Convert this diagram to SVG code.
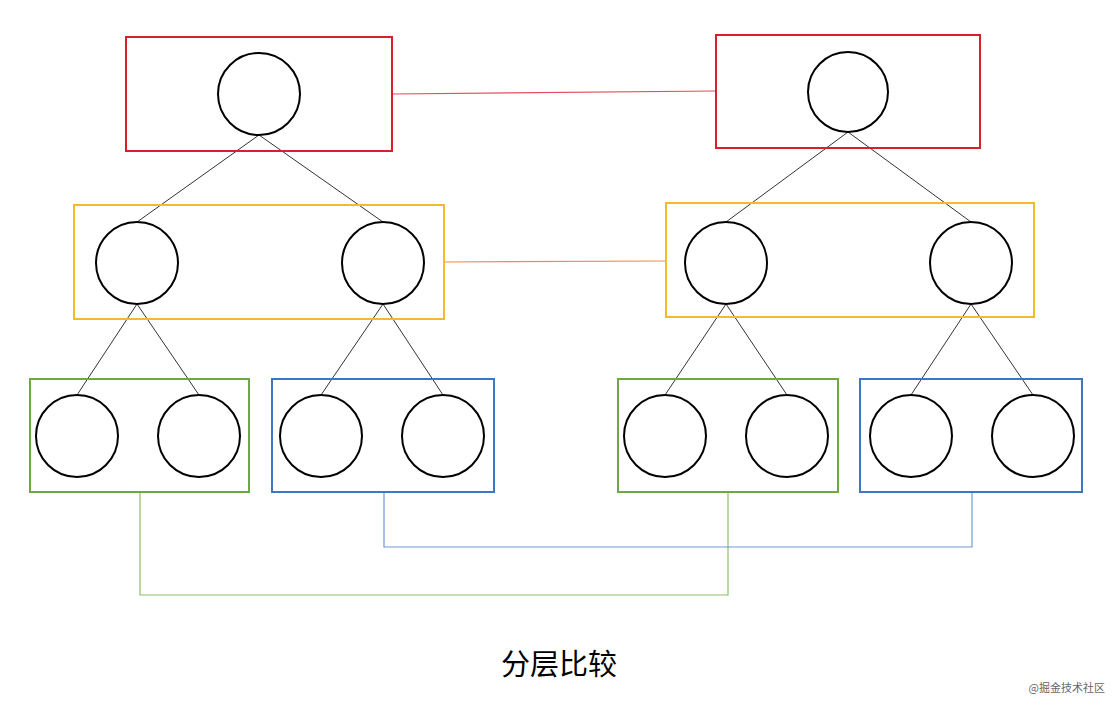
<svg xmlns="http://www.w3.org/2000/svg" width="1120" height="706" viewBox="0 0 1120 706">
<style>
.c{fill:#fff;stroke:#000;stroke-width:2}
.b{fill:none;stroke-width:2}
.r{stroke:#d8202c}.y{stroke:#f5b82e}.g{stroke:#6fa843}.u{stroke:#3d77c3}
.e{stroke:#333;stroke-width:1;fill:none}
</style>
<rect width="1120" height="706" fill="#fff"/>
<g id="connectors">
<line x1="392" y1="94" x2="716" y2="91" stroke="#e0505a" stroke-width="1.2"/>
<line x1="444" y1="262" x2="666" y2="261" stroke="#f08a50" stroke-width="1.2"/>
<polyline points="140,492 140,595 728,595 728,492" fill="none" stroke="#8fbf6a" stroke-width="1.2"/>
<polyline points="384,492 384,547 972,547 972,492" fill="none" stroke="#6f9bd4" stroke-width="1.2"/>
<path class="e" d="M259,135L137,222M259,135L383,222M848,132L726,222M848,132L971,222M137,304L77,395M137,304L199,395M383,304L321,395M383,304L443,395M726,304L665,395M726,304L787,395M971,304L911,395M971,304L1033,395"/>
</g>
<g id="red-left"><rect class="b r" x="126" y="37" width="266" height="114"/><circle class="c" cx="259" cy="94" r="41"/></g>
<g id="red-right"><rect class="b r" x="716" y="35" width="264" height="113"/><circle class="c" cx="848" cy="92" r="40"/></g>
<g id="yellow-left"><rect class="b y" x="74" y="205" width="370" height="114"/><circle class="c" cx="137" cy="263" r="41"/><circle class="c" cx="383" cy="263" r="41"/></g>
<g id="yellow-right"><rect class="b y" x="666" y="203" width="368" height="114"/><circle class="c" cx="726" cy="263" r="41"/><circle class="c" cx="971" cy="263" r="41"/></g>
<g id="green-left"><rect class="b g" x="30" y="379" width="219" height="113"/><circle class="c" cx="77" cy="436" r="41"/><circle class="c" cx="199" cy="436" r="41"/></g>
<g id="blue-left"><rect class="b u" x="272" y="379" width="222" height="113"/><circle class="c" cx="321" cy="436" r="41"/><circle class="c" cx="443" cy="436" r="41"/></g>
<g id="green-right"><rect class="b g" x="618" y="379" width="220" height="113"/><circle class="c" cx="665" cy="436" r="41"/><circle class="c" cx="787" cy="436" r="41"/></g>
<g id="blue-right"><rect class="b u" x="860" y="379" width="222" height="113"/><circle class="c" cx="911" cy="436" r="41"/><circle class="c" cx="1033" cy="436" r="41"/></g>
<text x="559" y="675" text-anchor="middle" font-family="'Noto Sans CJK SC',sans-serif" font-size="29" fill="#000">分层比较</text>
<text x="1105" y="692" text-anchor="end" font-family="'Noto Sans CJK SC',sans-serif" font-size="11" fill="#666">@掘金技术社区</text>
</svg>
